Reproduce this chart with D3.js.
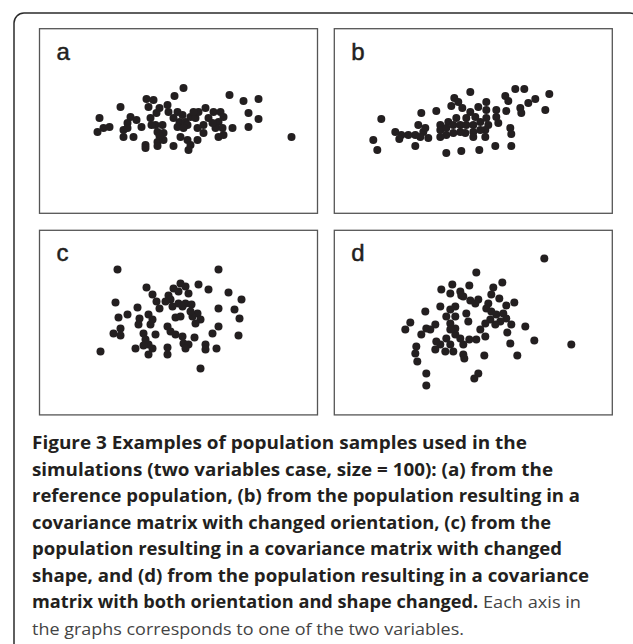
<!DOCTYPE html>
<html>
<head>
<meta charset="utf-8">
<style>
body { margin: 0; background: #fff; }
.panel-label { font-family: "Liberation Sans", Arial, sans-serif; font-size: 24px; fill: #231f20; stroke: #231f20; stroke-width: 0.5px; }
.caption { font-family: "Open Sans", "Noto Sans", sans-serif; font-size: 17px; }
</style>
<script src="https://d3js.org/d3.v7.min.js"></script>
</head>
<body>
<div id="chart"></div>
<script>

// panel labels
var panelLabels = ["a", "b", "c", "d"];

// (a) reference population
var sampleA = [
  [0.5,3.3],[-0.4,2.5],[5.1,2.6],[6.5,2.0],[8.0,2.2],[-5.8,1.4],[-3.2,2.2],[-2.5,2.1],[-3.0,1.4],[-1.9,1.3],
  [-1.1,1.6],[-2.2,0.8],[-2.8,0.3],[-7.9,0.3],[-4.8,0.4],[-4.2,0.1],[-5.1,-0.2],[-3.7,-0.6],[-7.5,-0.7],[-6.9,-0.6],
  [-8.1,-1.1],[-5.5,-0.9],[-5.5,-1.6],[-4.5,-1.6],[-2.3,-0.4],[-1.6,-0.4],[-2.1,-1.1],[-1.5,-1.2],[-3.3,-2.4],[-3.3,-2.7],
  [-2.1,-2.1],[-2.1,-2.5],[-1.5,-1.9],[-0.5,-2.5],[-0.1,0.9],[0.4,0.6],[0.1,-0.1],[-0.1,-0.6],[0.7,-0.1],[1.2,0.4],
  [0.9,-0.4],[1.7,0.3],[2.0,0.9],[2.7,1.3],[3.0,0.3],[2.5,-0.4],[1.9,-0.7],[3.5,0.9],[4.2,0.9],[4.5,0.4],
  [4.0,-0.1],[3.7,-0.7],[4.4,-0.7],[4.0,-1.6],[5.4,-0.7],[0.2,-1.6],[0.9,-1.9],[1.2,-2.4],[1.9,-1.9],[1.0,-2.9],
  [7.0,0.8],[8.0,0.2],[7.0,-0.6],[11.3,-1.6],[-0.5,0.3],[0.5,-0.7],[3.4,-0.2],[2.5,-1.2],[4.5,-1.4],[-5.1,-0.7],
  [-1.9,-1.5],[-2.7,-0.4],[-1.0,0.9],[1.5,0.9]
];

// (b) changed orientation
var sampleB = [
  [-0.3,2.9],[4.2,3.2],[5.1,3.2],[7.6,2.7],[3.2,2.5],[3.5,2.0],[6.2,2.2],[5.5,1.8],[-1.9,2.3],[-2.2,1.5],
  [-1.5,1.9],[-1.1,1.3],[0.5,1.4],[1.3,1.9],[1.3,1.1],[2.3,1.1],[3.3,1.0],[4.7,1.3],[4.8,0.8],[7.2,1.1],
  [-3.7,1.0],[-5.2,0.8],[-9.2,0.2],[-5.5,-0.4],[-0.3,0.9],[0.2,0.4],[-0.7,0.3],[-1.7,0.3],[-2.5,-0.1],[-3.3,-0.4],
  [-3.3,-0.9],[-2.7,-0.7],[-2.0,-0.4],[-1.3,-0.4],[-0.7,-0.4],[0.0,-0.4],[0.7,-0.1],[1.3,0.3],[1.5,-0.4],[1.2,-0.9],
  [0.7,-0.9],[0.0,-1.1],[-0.8,-1.2],[-1.3,-1.1],[-2.0,-1.2],[-2.7,-1.4],[0.0,-1.6],[1.2,-1.6],[2.3,0.4],[2.5,-0.2],
  [3.7,-0.7],[3.8,-1.3],[3.8,-2.5],[2.2,-2.5],[0.6,-2.9],[-1.2,-3.0],[-2.7,-3.2],[-5.8,-2.5],[-4.5,-1.7],[-5.0,-1.1],
  [-5.3,-1.6],[-5.8,-1.4],[-6.5,-1.4],[-7.2,-1.4],[-7.8,-1.1],[-7.4,-1.8],[-10.0,-1.9],[-9.6,-2.9],[-4.8,-0.7],[-3.3,-1.6]
];

// (c) changed shape
var sampleC = [
  [-6.1,5.3],[4.0,5.3],[-3.2,3.5],[0.2,3.9],[-0.5,3.4],[0.7,3.6],[2.0,3.8],[3.0,3.3],[1.0,2.9],[0.0,3.1],
  [-1.0,2.7],[-2.6,2.8],[-2.2,2.1],[-0.8,2.3],[0.0,1.9],[0.7,1.9],[1.3,1.8],[-0.6,1.6],[0.4,1.6],[5.0,3.0],
  [6.3,2.3],[-6.3,2.0],[-4.1,1.5],[-1.9,1.4],[4.0,1.4],[5.6,1.3],[1.9,0.9],[1.4,0.6],[2.2,0.3],[-0.3,0.5],
  [0.2,0.6],[-5.1,0.8],[-6.0,0.5],[-3.9,0.4],[-3.0,0.8],[-2.6,0.3],[-4.0,-0.2],[-2.8,-0.2],[6.1,0.4],[4.0,-0.4],
  [-1.1,-0.4],[-0.8,-0.9],[-0.3,-1.2],[0.4,-1.4],[-5.8,-0.6],[-6.5,-1.1],[-5.8,-1.3],[-3.5,-1.1],[-2.3,-1.2],[-3.3,-1.7],
  [-3.0,-2.2],[-3.5,-2.3],[1.6,-1.5],[3.4,-1.1],[6.0,-1.3],[0.5,-2.1],[1.0,-2.2],[0.7,-2.6],[2.7,-2.2],[2.7,-2.7],
  [3.8,-2.6],[-1.1,-2.5],[-1.1,-3.2],[-2.6,-2.6],[-3.0,-3.2],[-4.3,-2.6],[-7.8,-2.9],[2.2,-4.6],[1.7,-0.1],[1.2,1.1],
  [-1.3,2.1]
];

// (d) changed orientation and shape
var sampleD = [
  [7.1,6.4],[0.3,5.0],[2.9,4.0],[2.0,3.5],[-0.4,3.7],[-2.1,3.8],[-3.2,3.3],[-2.3,2.9],[-1.3,3.1],[-1.0,2.6],
  [-0.3,2.2],[0.2,1.9],[0.5,2.3],[1.8,2.8],[2.6,2.4],[1.5,1.9],[4.1,2.0],[3.3,1.7],[1.3,1.4],[1.8,1.1],
  [2.3,0.8],[3.0,0.9],[3.3,0.4],[2.7,0.1],[2.2,-0.2],[1.7,0.3],[1.2,-0.1],[0.7,-0.7],[1.2,-1.4],[0.3,-1.7],
  [-0.4,-1.7],[3.8,-0.2],[3.4,-1.0],[5.2,-0.4],[3.7,-2.1],[6.1,-1.8],[9.8,-2.2],[4.4,-3.3],[1.1,-3.3],[-1.0,-3.2],
  [-1.0,-2.2],[-1.3,-1.6],[-1.8,-1.2],[-1.8,-0.6],[-1.8,0.6],[-1.8,1.6],[-2.3,1.3],[-2.7,0.6],[-2.3,-0.1],[-2.3,-0.7],
  [-2.7,-1.6],[-2.3,-2.2],[-2.0,-2.9],[-2.8,-2.9],[-3.3,-2.2],[-3.8,-2.7],[-3.7,-1.9],[-3.3,1.6],[-3.8,-0.2],[-4.3,-0.7],
  [-4.7,-0.6],[-5.2,-1.2],[-4.8,1.1],[-6.3,0.0],[-6.8,-0.7],[-5.7,-2.4],[-5.8,-3.1],[-5.6,-3.9],[-4.7,-5.1],[-4.7,-6.3],
  [0.5,-5.1],[0.1,-5.6],[-0.9,-3.6],[-1.2,2.7],[-0.7,0.9],[-0.5,0.1]
];

var samples = [sampleA, sampleB, sampleC, sampleD];

// caption (bold part, then normal part)
var captionBold = [
  "Figure 3 Examples of population samples used in the",
  "simulations (two variables case, size = 100): (a) from the",
  "reference population, (b) from the population resulting in a",
  "covariance matrix with changed orientation, (c) from the",
  "population resulting in a covariance matrix with changed",
  "shape, and (d) from the population resulting in a covariance",
  "matrix with both orientation and shape changed.",
  ""
];
var captionNormal = ["", "", "", "", "", "", " Each axis in",
  "the graphs corresponds to one of the two variables."];
var captionWidths = [495, 521, 548, 519, 530, 557, 549, 432];

var W = 633, H = 644;
var svg = d3.select("#chart").append("svg")
    .attr("width", W)
    .attr("height", H);

// outer rounded frame (runs off the right and bottom of the picture)
svg.append("rect")
    .attr("x", 14).attr("y", 13)
    .attr("width", 626).attr("height", 660)
    .attr("rx", 10)
    .attr("fill", "none")
    .attr("stroke", "#2b2b2b")
    .attr("stroke-width", 1.5);

var pw = 278, ph = 184.6;
var origins = [[39.5, 28.7], [334.3, 28.7], [39.5, 230.3], [334.3, 230.3]];

var x = d3.scaleLinear().domain([-13.9, 13.9]).range([0, pw]);
var y = d3.scaleLinear().domain([-9.23, 9.23]).range([ph, 0]);

samples.forEach(function(data, i) {
  var g = svg.append("g")
      .attr("transform", "translate(" + origins[i][0] + "," + origins[i][1] + ")");

  g.append("rect")
      .attr("width", pw).attr("height", ph)
      .attr("fill", "#fff")
      .attr("stroke", "#555")
      .attr("stroke-width", 1.3);

  g.append("text")
      .attr("class", "panel-label")
      .attr("x", 17).attr("y", 31)
      .text(panelLabels[i]);

  g.selectAll("circle")
      .data(data)
    .enter().append("circle")
      .attr("cx", function(d) { return x(d[0]); })
      .attr("cy", function(d) { return y(d[1]); })
      .attr("r", 4)
      .attr("fill", "#231f20");
});

// caption
var cap = svg.append("g").attr("class", "caption");
captionBold.forEach(function(b, i) {
  var t = cap.append("text")
      .attr("x", 32)
      .attr("y", 449 + i * 26.5)
      .attr("textLength", captionWidths[i])
      .attr("lengthAdjust", "spacingAndGlyphs");
  if (b) t.append("tspan").attr("font-weight", "bold").attr("fill", "#231f20").text(b);
  if (captionNormal[i]) t.append("tspan").attr("fill", "#444").text(captionNormal[i]);
});

</script>
</body>
</html>
